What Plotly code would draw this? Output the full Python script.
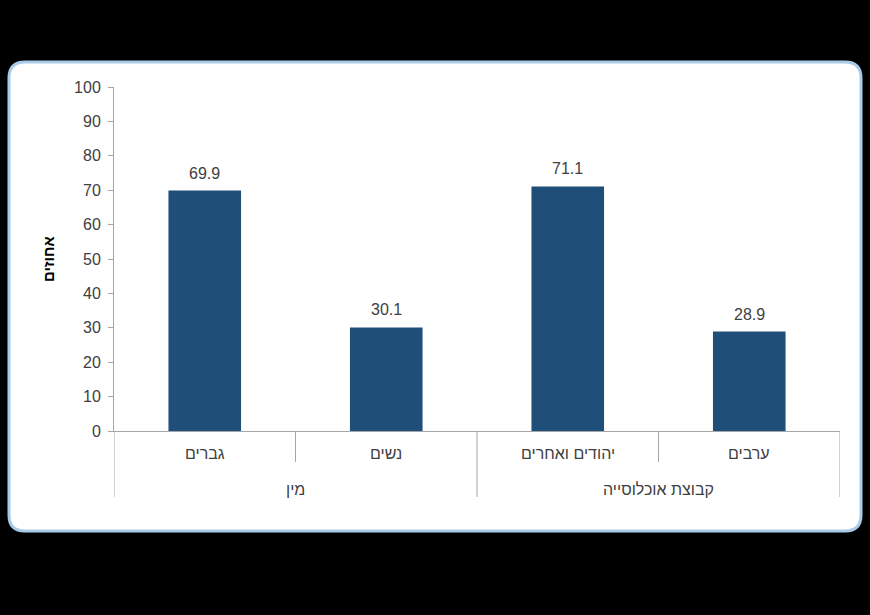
import plotly.graph_objects as go

groups = ["מין", "קבוצת אוכלוסייה"]
group_sizes = [2, 2]
categories = ["גברים", "נשים", "יהודים ואחרים", "ערבים"]
values = [69.9, 30.1, 71.1, 28.9]
y_ticks = [0, 10, 20, 30, 40, 50, 60, 70, 80, 90, 100]

W, H = 870, 615
L, R, T, B = 114, 30, 87, 184
pw, ph = W - L - R, H - T - B

def px(x):
    return (x - L) / pw

def py(y):
    return (H - B - y) / ph

# rounded panel path in paper coordinates
x0, x1, y0, y1, r = 9, 861, 62, 531, 16
def pt(x, y):
    return f"{px(x):.5f},{py(y):.5f}"
path = (f"M {pt(x0 + r, y0)} L {pt(x1 - r, y0)} Q {pt(x1, y0)} {pt(x1, y0 + r)} "
        f"L {pt(x1, y1 - r)} Q {pt(x1, y1)} {pt(x1 - r, y1)} "
        f"L {pt(x0 + r, y1)} Q {pt(x0, y1)} {pt(x0, y1 - r)} "
        f"L {pt(x0, y0 + r)} Q {pt(x0, y0)} {pt(x0 + r, y0)} Z")

font = "Liberation Sans, Arial, sans-serif"
grey = "#A6A6A6"
txt = "#404040"
xs = list(range(len(categories)))

fig = go.Figure(go.Bar(
    x=xs,
    y=values,
    marker=dict(color="#1F4E79", line=dict(width=0)),
    width=0.4,
    cliponaxis=False,
))

shapes = [dict(type="path", xref="paper", yref="paper", path=path,
               fillcolor="white", line=dict(color="#A9CBEA", width=3), layer="below")]
annotations = []

# value labels
for x, v in zip(xs, values):
    annotations.append(dict(x=x, y=v, xref="x", yref="y", text=f"{v:.1f}",
                            showarrow=False, yanchor="bottom", yshift=7,
                            font=dict(family=font, size=16, color=txt)))
# category labels
for x, c in zip(xs, categories):
    annotations.append(dict(x=x, y=py(453), xref="x", yref="paper", text=c,
                            showarrow=False, yanchor="middle",
                            font=dict(family=font, size=16, color=txt)))
# group labels and dividers
start = 0
bounds = [-0.5]
for g, n in zip(groups, group_sizes):
    center = start + (n - 1) / 2
    annotations.append(dict(x=center, y=py(489), xref="x", yref="paper", text=g,
                            showarrow=False, yanchor="middle",
                            font=dict(family=font, size=16, color=txt)))
    start += n
    bounds.append(start - 0.5)
for b in bounds:
    shapes.append(dict(type="line", xref="x", yref="paper", x0=b, x1=b,
                       y0=0, y1=py(497), line=dict(color=grey, width=1)))
for i in range(len(categories) - 1):
    b = i + 0.5
    if b not in bounds:
        shapes.append(dict(type="line", xref="x", yref="paper", x0=b, x1=b,
                           y0=0, y1=py(462), line=dict(color=grey, width=1)))

annotations.append(dict(text="<b>אחוזים</b>", xref="paper", yref="paper",
                        x=px(48), y=py(259), textangle=-90, showarrow=False,
                        xanchor="center", yanchor="middle",
                        font=dict(family=font, size=15, color="black")))

fig.update_layout(
    width=W, height=H,
    margin=dict(l=L, r=R, t=T, b=B),
    paper_bgcolor="black",
    plot_bgcolor="white",
    showlegend=False,
    font=dict(family=font, size=16, color=txt),
    shapes=shapes,
    annotations=annotations,
)
fig.update_yaxes(range=[0, 100], tickvals=y_ticks, showgrid=False, zeroline=False,
                 showline=True, linecolor=grey, linewidth=1,
                 ticks="outside", ticklen=5, tickcolor=grey,
                 ticklabelstandoff=4,
                 tickfont=dict(size=16, color=txt))
fig.update_xaxes(range=[-0.5, 3.5], showline=True, linecolor=grey, linewidth=1,
                 showticklabels=False, ticks="", showgrid=False, zeroline=False)

fig.write_html("out.html")
